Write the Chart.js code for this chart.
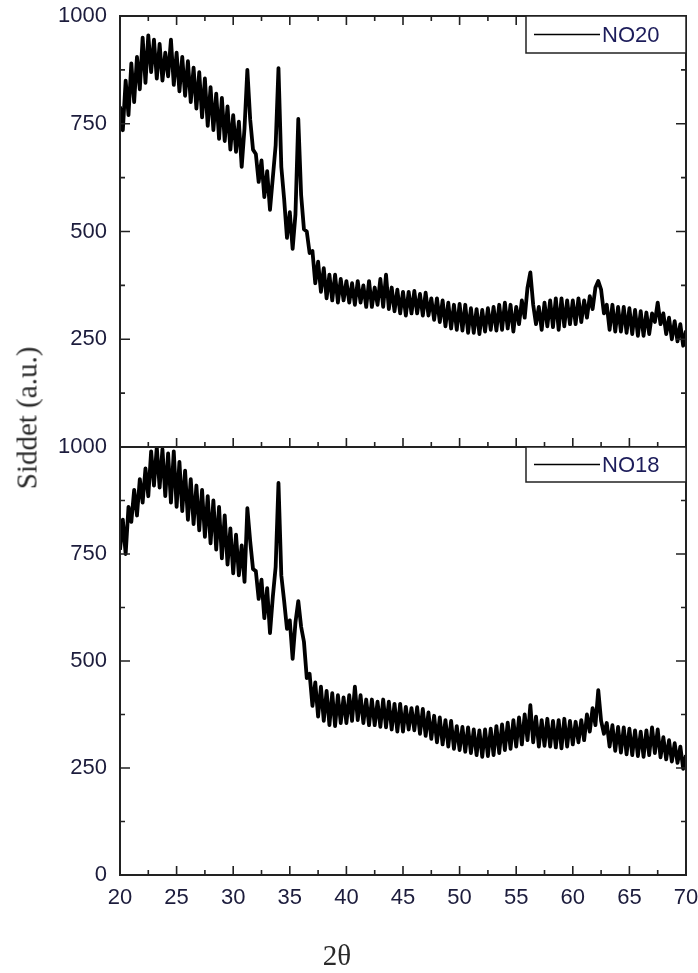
<!DOCTYPE html>
<html>
<head>
<meta charset="utf-8">
<script src="https://cdn.jsdelivr.net/npm/chart.js@4.4.0/dist/chart.umd.min.js"></script>
<style>
  body { margin: 0; background: #fff; width: 698px; height: 973px; position: relative; overflow: hidden; }
  canvas { position: absolute; left: 0; }
  #topChart { top: 0; }
  #botChart { top: 430px; }
  #yTitle {
    position: absolute; left: 27px; top: 418px;
    transform: translate(-50%, -50%) rotate(-90deg);
    font: 29px "Liberation Serif", serif; color: #2a2a2a; white-space: nowrap;
  }
  #xTitle {
    position: absolute; left: 337px; top: 955px;
    transform: translate(-50%, -50%);
    font: 29px "Liberation Serif", serif; color: #2a2a2a; white-space: nowrap;
  }
</style>
</head>
<body>
<canvas id="topChart" width="698" height="460"></canvas>
<canvas id="botChart" width="698" height="543"></canvas>
<div id="yTitle">Siddet (a.u.)</div>
<div id="xTitle">2θ</div>
<script>
// 2-theta sampling (deg)
const twoTheta = [
  20,20.25,20.5,20.75, 21,21.25,21.5,21.75, 22,22.25,22.5,22.75, 23,23.25,23.5,23.75,
  24,24.25,24.5,24.75, 25,25.25,25.5,25.75, 26,26.25,26.5,26.75, 27,27.25,27.5,27.75,
  28,28.25,28.5,28.75, 29,29.25,29.5,29.75, 30,30.25,30.5,30.75, 31,31.25,31.5,31.75,
  32,32.25,32.5,32.75, 33,33.25,33.5,33.75, 34,34.25,34.5,34.75, 35,35.25,35.5,35.75,
  36,36.25,36.5,36.75, 37,37.25,37.5,37.75, 38,38.25,38.5,38.75, 39,39.25,39.5,39.75,
  40,40.25,40.5,40.75, 41,41.25,41.5,41.75, 42,42.25,42.5,42.75, 43,43.25,43.5,43.75,
  44,44.25,44.5,44.75, 45,45.25,45.5,45.75, 46,46.25,46.5,46.75, 47,47.25,47.5,47.75,
  48,48.25,48.5,48.75, 49,49.25,49.5,49.75, 50,50.25,50.5,50.75, 51,51.25,51.5,51.75,
  52,52.25,52.5,52.75, 53,53.25,53.5,53.75, 54,54.25,54.5,54.75, 55,55.25,55.5,55.75,
  56,56.25,56.5,56.75, 57,57.25,57.5,57.75, 58,58.25,58.5,58.75, 59,59.25,59.5,59.75,
  60,60.25,60.5,60.75, 61,61.25,61.5,61.75, 62,62.25,62.5,62.75, 63,63.25,63.5,63.75,
  64,64.25,64.5,64.75, 65,65.25,65.5,65.75, 66,66.25,66.5,66.75, 67,67.25,67.5,67.75,
  68,68.25,68.5,68.75, 69,69.25,69.5,69.75, 70
];

// NO20 intensity (top panel)
const no20 = [
  790,735,850,770, 890,800,905,830, 950,845,955,870, 945,855,935,850,
  915,860,945,840, 915,825,905,815, 895,800,880,785, 870,765,855,745,
  835,735,820,715, 810,710,790,690, 770,685,755,650, 740,875,760,690,
  680,615,665,580, 640,550,625,700, 879,650,575,485, 545,460,540,761,
  585,505,500,450, 455,380,430,360, 415,345,400,340, 400,335,390,340,
  385,335,380,330, 385,335,375,325, 385,325,370,330, 390,325,400,320,
  370,315,365,310, 360,305,360,310, 362,310,355,305, 358,305,345,295,
  345,290,340,280, 335,275,330,272, 332,270,330,265, 322,265,320,262,
  318,268,322,272, 325,270,330,272, 335,275,330,268, 325,285,340,300,
  370,405,330,285, 325,272,335,280, 340,278,345,272, 345,280,340,285,
  340,285,345,290, 340,300,350,320, 370,385,365,310, 330,272,330,268,
  325,268,325,265, 322,262,318,258, 315,258,312,262, 310,290,335,285,
  310,262,300,250, 292,245,285,235, 270
];

// NO18 intensity (bottom panel)
const no18 = [
  760,830,750,860, 825,900,840,925, 870,950,885,990, 910,1000,905,995,
  885,985,870,990, 860,965,850,945, 830,925,820,910, 805,900,790,885,
  775,875,760,860, 740,840,725,810, 705,795,700,770, 685,857,780,715,
  710,645,690,600, 670,565,650,720, 916,700,640,575, 595,505,590,640,
  580,545,460,470, 395,450,370,440, 360,430,350,425, 348,420,355,415,
  355,420,360,440, 362,420,355,410, 350,410,350,405, 346,410,345,405,
  340,400,335,400, 335,393,340,390, 338,392,330,388, 325,380,318,372,
  310,368,305,362, 300,360,295,348, 292,346,288,345, 285,340,280,338,
  276,340,278,342, 280,348,285,352, 292,356,295,362, 300,368,305,375,
  315,397,310,370, 300,362,302,365, 300,360,298,362, 296,365,300,360,
  305,358,310,362, 315,375,335,390, 350,432,360,330, 355,300,350,290,
  346,286,345,282, 342,280,338,278, 335,276,338,280, 345,285,340,275,
  322,270,315,265, 308,262,300,248, 280
];

const xMajor = [20, 25, 30, 35, 40, 45, 50, 55, 60, 65, 70];
const xMinor = [22.5, 27.5, 32.5, 37.5, 42.5, 47.5, 52.5, 57.5, 62.5, 67.5];
const yMajor = [0, 250, 500, 750, 1000];
const yMinor = [125, 375, 625, 875];

Chart.defaults.font.family = "'Liberation Sans', Arial, sans-serif";
Chart.defaults.color = '#1c1c3c';

// box + inward ticks, drawn from the chart's own scales
const frame = {
  id: 'frame',
  afterDatasetsDraw(chart, args, opts) {
    const { ctx, chartArea: a, scales: { x, y } } = chart;
    ctx.save();
    ctx.strokeStyle = '#222';
    ctx.lineWidth = 2;
    ctx.strokeRect(a.left, a.top, a.right - a.left, a.bottom - a.top);
    ctx.lineWidth = 1.6;
    ctx.beginPath();
    const vt = (px, py, len) => { ctx.moveTo(px, py); ctx.lineTo(px, py + len); };
    const ht = (px, py, len) => { ctx.moveTo(px, py); ctx.lineTo(px + len, py); };
    xMajor.forEach(v => {
      const px = x.getPixelForValue(v);
      vt(px, a.bottom, -9);
      if (opts.topTicks) vt(px, a.top, 9);
    });
    xMinor.forEach(v => {
      const px = x.getPixelForValue(v);
      vt(px, a.bottom, -5);
      if (opts.topTicks) vt(px, a.top, 5);
    });
    yMajor.forEach(v => {
      const py = y.getPixelForValue(v);
      ht(a.left, py, 10);
      ht(a.right, py, -10);
    });
    yMinor.forEach(v => {
      const py = y.getPixelForValue(v);
      ht(a.left, py, 5);
      ht(a.right, py, -5);
    });
    ctx.stroke();
    ctx.restore();
  }
};

// boxed legend in the upper right corner
const boxLegend = {
  id: 'boxLegend',
  afterDraw(chart, args, opts) {
    const { ctx, chartArea: a } = chart;
    const ds = chart.data.datasets[0];
    const left = a.right - opts.width;
    ctx.save();
    ctx.fillStyle = '#fff';
    ctx.fillRect(left, a.top, opts.width, opts.height);
    ctx.strokeStyle = '#222';
    ctx.lineWidth = 1.5;
    ctx.strokeRect(left, a.top, opts.width, opts.height);
    ctx.beginPath();
    ctx.lineWidth = 1.5;
    ctx.strokeStyle = '#000';
    ctx.moveTo(left + 8, a.top + opts.height / 2);
    ctx.lineTo(left + 74, a.top + opts.height / 2);
    ctx.stroke();
    ctx.fillStyle = '#1c1c5a';
    ctx.font = "22px 'Liberation Sans', Arial, sans-serif";
    ctx.textBaseline = 'middle';
    ctx.fillText(ds.label, left + 76, a.top + opts.height / 2 + 1);
    ctx.restore();
  }
};

function makePanel(id, label, values, isBottom, area) {
  const chart = new Chart(document.getElementById(id), {
    type: 'line',
    data: {
      datasets: [{
        label: label,
        data: twoTheta.map((t, i) => ({ x: t, y: values[i] })),
        borderColor: '#000',
        borderWidth: 3.8,
        borderJoinStyle: 'round',
        pointRadius: 0,
        tension: 0
      }]
    },
    options: {
      responsive: false,
      animation: false,
      devicePixelRatio: 1,
      layout: { padding: { top: area.top, right: 12, left: 0, bottom: isBottom ? 0 : 460 - area.bottom } },
      plugins: {
        legend: { display: false },
        tooltip: { enabled: false },
        frame: { topTicks: !isBottom },
        boxLegend: { width: 160, height: isBottom ? 35 : 37 }
      },
      scales: {
        x: {
          type: 'linear',
          min: 20, max: 70,
          display: isBottom,
          grid: { display: false, drawTicks: false },
          border: { display: false },
          ticks: { stepSize: 5, padding: 10, font: { size: 22 }, maxRotation: 0 },
          afterFit: s => {
            s.paddingLeft = 0; s.paddingRight = 0;
            if (isBottom) s.height = 98;
          }
        },
        y: {
          min: 0, max: 1000,
          grid: { display: false, drawTicks: false },
          border: { display: false },
          ticks: {
            stepSize: 250, padding: 13, font: { size: 22 },
            callback: v => (!isBottom && v === 0) ? '' : v
          },
          afterFit: s => { s.width = 120; s.paddingTop = 0; s.paddingBottom = 0; }
        }
      }
    },
    plugins: [frame, boxLegend]
  });
  // nudge the padding so the plot box lands on the wanted pixels
  const pad = chart.options.layout.padding;
  const a = chart.chartArea;
  pad.top += area.top - a.top;
  pad.bottom += a.bottom - area.bottom;
  pad.right += a.right - area.right;
  chart.update();
  return chart;
}

// plot boxes in each canvas' own pixels
makePanel('topChart', 'NO20', no20, false, { top: 16, bottom: 447, right: 686 });
makePanel('botChart', 'NO18', no18, true, { top: 17, bottom: 445, right: 686 });
</script>
</body>
</html>
